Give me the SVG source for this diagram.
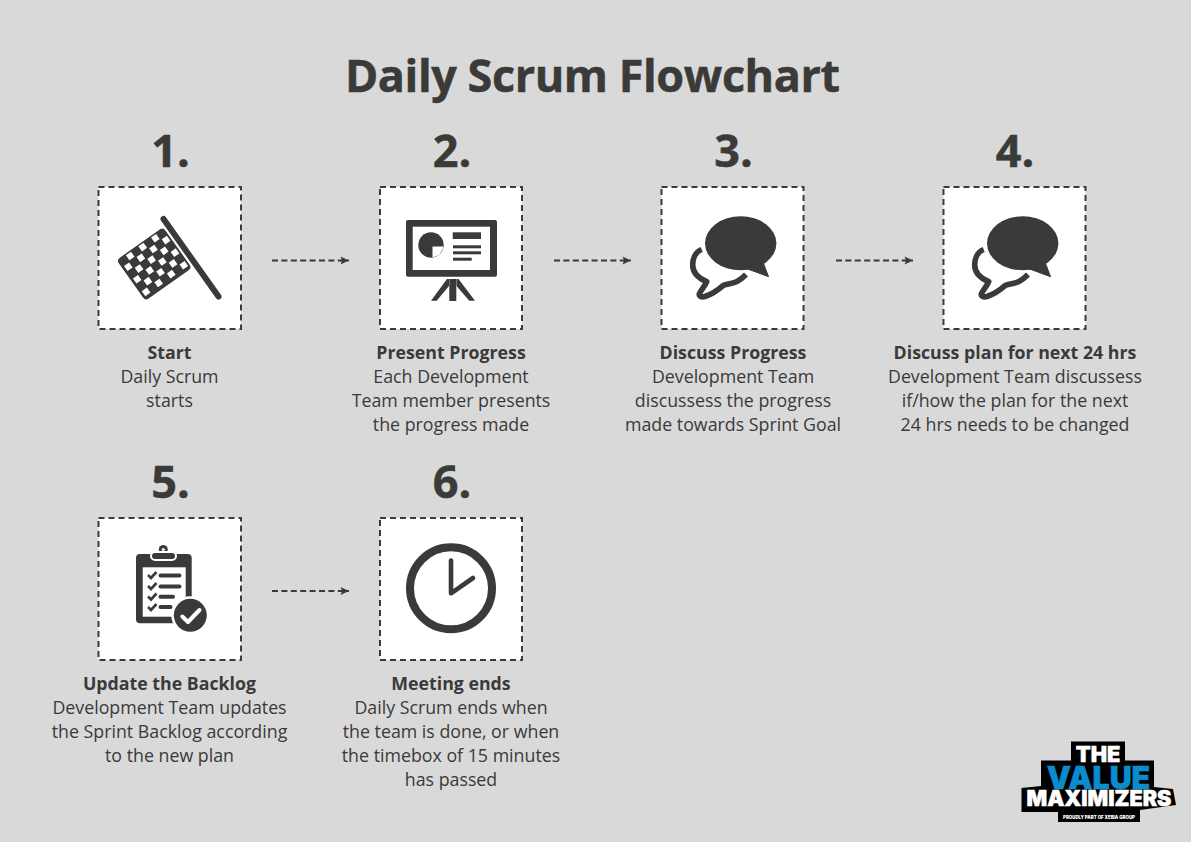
<svg xmlns="http://www.w3.org/2000/svg" width="1191" height="842" viewBox="0 0 1191 842">
<style>
text{font-family:"Open Sans","Noto Sans",sans-serif;fill:#3a3a39;text-anchor:middle}
.t{font-size:45px;font-weight:700;stroke:#3a3a39;stroke-width:.5}
.n{font-size:45px;font-weight:700;stroke:#3a3a39;stroke-width:.5}
.h{font-size:17.750px;font-weight:700}
.b{font-size:17.800px}
.box{fill:#fff;stroke:#3a3a39;stroke-width:2;stroke-dasharray:6 4}
.a{fill:none;stroke:#3a3a39;stroke-width:2;stroke-dasharray:6 3.4;marker-end:url(#ah)}
.d{fill:#3a3a39}
.w{fill:#fff}
.l{font-family:"Inter","Liberation Sans",sans-serif;font-weight:900;stroke-width:.5}
</style>
<defs>
<marker id="ah" markerUnits="userSpaceOnUse" markerWidth="10" markerHeight="10" refX="9" refY="5" orient="auto"><path d="M0.500 1L9 5L0.500 9L2.200 5Z" fill="#3a3a39"/></marker>
<g id="chat">
<ellipse class="d" cx="740.700" cy="243.300" rx="35.700" ry="27"/>
<path class="d" d="M745 268L768.500 276.700L763 262Z" stroke="#3a3a39" stroke-width="1" stroke-linejoin="round"/>
<path d="M701.700 249.500C695 252 692.700 259 692.700 265C692.700 272 698 278 706.700 281.700C705 286 701 290 699.500 293.500C698.500 296 701 297.500 705 296.500C712 294 718 290 723.300 285.300C729 283.500 733 283.500 737 281.500C741 279.500 743.500 277 746 274.500" fill="none" stroke="#3a3a39" stroke-width="5.600" stroke-linejoin="round"/>
</g>
</defs>
<rect width="1191" height="842" fill="#d9d9d9"/>
<text class="t" x="592.500" y="92" textLength="495" lengthAdjust="spacing">Daily Scrum Flowchart</text>

<g id="connectors">
<path class="a" d="M272 260.500H349"/>
<path class="a" d="M554 260.500H631"/>
<path class="a" d="M836 260.500H913"/>
<path class="a" d="M272 591H349"/>
</g>

<g id="node1">
<text class="n" x="170.500" y="167">1.</text>
<rect class="box" x="98.500" y="187" width="142.500" height="142"/>
<line x1="163.500" y1="219" x2="218.500" y2="296.500" stroke="#3a3a39" stroke-width="6" stroke-linecap="round"/>
<g transform="translate(116.500 260) rotate(-35.200)">
<rect class="d" x="0" y="0" width="57" height="50" rx="4"/>
<path class="w" d="M10.400 1.500h6.200v6.200h-6.200zM25.800 1.500h6.200v6.200h-6.200zM41.200 1.500h6.200v6.200h-6.200zM2.700 9.200h6.200v6.200h-6.200zM18.100 9.200h6.200v6.200h-6.200zM33.500 9.200h6.200v6.200h-6.200zM48.900 9.200h6.200v6.200h-6.200zM10.400 16.900h6.200v6.200h-6.200zM25.800 16.900h6.200v6.200h-6.200zM41.200 16.900h6.200v6.200h-6.200zM2.700 24.600h6.200v6.200h-6.200zM18.100 24.600h6.200v6.200h-6.200zM33.500 24.600h6.200v6.200h-6.200zM48.900 24.600h6.200v6.200h-6.200zM10.400 32.300h6.200v6.200h-6.200zM25.800 32.300h6.200v6.200h-6.200zM41.200 32.300h6.200v6.200h-6.200zM2.700 40h6.200v6.200h-6.200zM18.100 40h6.200v6.200h-6.200zM33.500 40h6.200v6.200h-6.200zM48.900 40h6.200v6.200h-6.200z"/>
</g>
<text class="h" x="169.500" y="359">Start</text>
<text class="b" x="169.500" y="383">Daily Scrum</text>
<text class="b" x="169.500" y="407">starts</text>
</g>

<g id="node2">
<text class="n" x="452" y="167">2.</text>
<rect class="box" x="380" y="187" width="142" height="142"/>
<rect class="d" x="406" y="220" width="91" height="56.700" rx="2"/>
<rect class="w" x="412.700" y="226.700" width="77.300" height="43.300"/>
<circle class="d" cx="431" cy="245" r="12.700"/>
<path class="w" d="M432.500 246.500H443.500A12.700 12.700 0 0 1 432.500 257.500Z"/>
<rect class="d" x="452.700" y="232.300" width="28.300" height="6.700"/>
<rect class="d" x="453" y="245.300" width="28" height="3"/>
<rect class="d" x="453" y="251.300" width="28" height="3"/>
<rect class="d" x="453" y="257.700" width="18.700" height="3"/>
<rect class="d" x="449.300" y="279" width="7" height="22"/>
<path class="d" d="M447 279L431 300.700H436.700L449 286V279ZM458.500 279L475 300.700H469.300L456.500 286V279Z"/>
<text class="h" x="451" y="359">Present Progress</text>
<text class="b" x="451" y="383">Each Development</text>
<text class="b" x="451" y="407">Team member presents</text>
<text class="b" x="451" y="431">the progress made</text>
</g>

<g id="node3">
<text class="n" x="733.500" y="167">3.</text>
<rect class="box" x="661.500" y="187" width="142" height="142"/>
<use href="#chat"/>
<text class="h" x="733" y="359">Discuss Progress</text>
<text class="b" x="733" y="383">Development Team</text>
<text class="b" x="733" y="407">discussess the progress</text>
<text class="b" x="733" y="431">made towards Sprint Goal</text>
</g>

<g id="node4">
<text class="n" x="1015" y="167">4.</text>
<rect class="box" x="943.500" y="187" width="142" height="142"/>
<use href="#chat" x="282"/>
<text class="h" x="1015" y="359">Discuss plan for next 24 hrs</text>
<text class="b" x="1015" y="383">Development Team discussess</text>
<text class="b" x="1015" y="407">if/how the plan for the next</text>
<text class="b" x="1015" y="431">24 hrs needs to be changed</text>
</g>

<g id="node5">
<text class="n" x="170.500" y="498">5.</text>
<rect class="box" x="98.500" y="518" width="142.500" height="142"/>
<rect class="d" x="136" y="554" width="55.700" height="69.300" rx="4"/>
<rect class="w" x="142.700" y="567.300" width="43" height="49.400"/>
<circle class="d" cx="163.300" cy="549.500" r="4.500"/>
<rect class="d" x="151" y="552" width="25" height="8" rx="4" stroke="#fff" stroke-width="2"/>
<circle cx="163.300" cy="549.500" r="1.500" fill="#fff"/>
<path d="M148 575l3 3 5.500-6M148 586l3 3 5.500-6M148 596.500l3 3 5.500-6M148 607l3 3 5.500-6" fill="none" stroke="#3a3a39" stroke-width="2.600"/>
<path d="M160.500 575.500H179.500M160.500 586.500H179.500M160.500 596.700H173M160.500 607H170.500" fill="none" stroke="#3a3a39" stroke-width="4" stroke-linecap="round"/>
<circle cx="190.300" cy="615.300" r="19" fill="#fff"/>
<circle class="d" cx="190.300" cy="615.300" r="16.500"/>
<path d="M182.300 616.500L188 622L199.500 610" fill="none" stroke="#fff" stroke-width="4" stroke-linecap="round" stroke-linejoin="round"/>
<text class="h" x="169.500" y="690">Update the Backlog</text>
<text class="b" x="169.500" y="714">Development Team updates</text>
<text class="b" x="169.500" y="738">the Sprint Backlog according</text>
<text class="b" x="169.500" y="762">to the new plan</text>
</g>

<g id="node6">
<text class="n" x="452" y="498">6.</text>
<rect class="box" x="380" y="518" width="142" height="142"/>
<circle cx="451" cy="588.300" r="41" fill="none" stroke="#3a3a39" stroke-width="8"/>
<path d="M451 560.500V593.300L473 578" fill="none" stroke="#3a3a39" stroke-width="4.600" stroke-linecap="round" stroke-linejoin="round"/>
<text class="h" x="451" y="690">Meeting ends</text>
<text class="b" x="451" y="714">Daily Scrum ends when</text>
<text class="b" x="451" y="738">the team is done, or when</text>
<text class="b" x="451" y="762">the timebox of 15 minutes</text>
<text class="b" x="451" y="786">has passed</text>
</g>

<g id="logo">
<path fill="#000" d="M1071 741.500H1125V760.500H1154V787L1173 789L1176 805L1140 810V822H1058V812H1021.500V788L1041 786V760.500H1071Z"/>
<text class="l" x="1098" y="762" font-size="21" textLength="44.500" lengthAdjust="spacingAndGlyphs" style="fill:#fff;stroke:#fff">THE</text>
<text class="l" x="1098.500" y="789" font-size="31" textLength="103.500" lengthAdjust="spacingAndGlyphs" style="fill:#0b8ccc;stroke:#0b8ccc">VALUE</text>
<text class="l" x="1099" y="806" font-size="21" textLength="145" lengthAdjust="spacingAndGlyphs" style="fill:#fff;stroke:#fff">MAXIMIZERS</text>
<text class="l" x="1099" y="819" font-size="4.500" textLength="72" lengthAdjust="spacingAndGlyphs" style="fill:#fff;stroke:none">PROUDLY PART OF XEBIA GROUP</text>
</g>
</svg>
